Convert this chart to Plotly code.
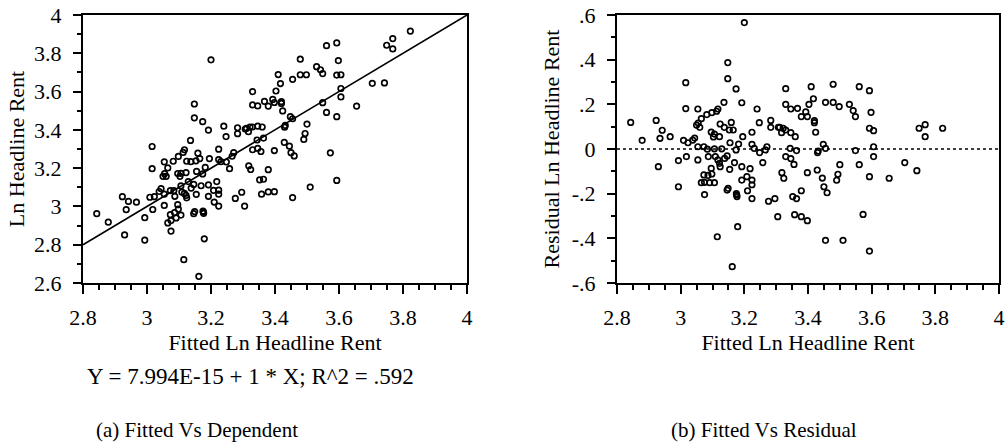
import plotly.graph_objects as go
from plotly.subplots import make_subplots

# Fitted values (x) and residuals
fitted = [
    3.016, 3.016, 2.843, 2.923, 2.942, 2.879, 2.935, 2.967, 3.009, 3.023, 2.930, 2.993, 3.018, 2.993,
    3.148, 3.148, 3.174, 3.192, 3.136, 3.054, 3.117, 3.113, 3.098, 3.082, 3.065, 3.055, 3.050, 3.060,
    3.124, 3.137, 3.159, 3.153, 3.165, 3.096, 3.106, 3.122, 3.103, 3.044, 3.038, 3.054, 3.073, 3.084,
    3.106, 3.129, 3.155, 3.182, 3.195, 3.174, 3.087, 3.146, 3.138, 3.117, 3.109, 3.122, 3.054, 3.154,
    3.124, 3.096, 3.169, 3.192, 3.098, 3.086, 3.073, 3.075, 3.065, 3.091, 3.106, 3.075, 3.146, 3.149,
    3.175, 3.176, 3.177, 3.192, 3.179, 3.115, 3.162, 3.200,
    3.330, 3.330, 3.346, 3.367, 3.240, 3.247, 3.283, 3.283, 3.307, 3.311, 3.322, 3.317, 3.330, 3.346,
    3.360, 3.224, 3.224, 3.231, 3.248, 3.266, 3.271, 3.258, 3.344, 3.364, 3.330, 3.346, 3.356, 3.218,
    3.318, 3.324, 3.208, 3.224, 3.224, 3.210, 3.224, 3.276, 3.296, 3.352, 3.364, 3.305, 3.358,
    3.410, 3.479, 3.561, 3.417, 3.403, 3.393, 3.379, 3.398, 3.455, 3.479, 3.498, 3.530, 3.542, 3.549,
    3.420, 3.420, 3.424, 3.448, 3.455, 3.430, 3.432, 3.549, 3.500, 3.561, 3.398, 3.429, 3.445, 3.494,
    3.490, 3.450, 3.460, 3.379, 3.379, 3.398, 3.573, 3.455, 3.510,
    3.593, 3.598, 3.593, 3.606, 3.606, 3.606, 3.593, 3.655, 3.704, 3.742, 3.749, 3.768, 3.768, 3.823,
    3.593,
]
residual = [
    0.297, 0.181, 0.119, 0.128, 0.084, 0.039, 0.048, 0.055, 0.039, 0.028, -0.079, -0.052, -0.034, -0.169,
    0.387, 0.315, 0.269, 0.207, 0.209, 0.179, 0.179, 0.169, 0.163, 0.154, 0.136, 0.116, 0.107, 0.097,
    0.112, 0.097, 0.119, 0.085, 0.085, 0.076, 0.067, 0.055, 0.054, 0.049, 0.040, 0.010, 0.010, -0.001,
    0.001, 0.001, 0.028, 0.022, 0.055, -0.004, -0.034, -0.031, -0.042, -0.049, -0.034, -0.064, -0.049, -0.091,
    -0.079, -0.087, -0.061, -0.079, -0.112, -0.118, -0.116, -0.149, -0.151, -0.151, -0.151, -0.204, -0.184, -0.176,
    -0.200, -0.206, -0.213, -0.139, -0.348, -0.393, -0.527, 0.566,
    0.270, 0.200, 0.179, 0.182, 0.179, 0.118, 0.128, 0.097, 0.097, 0.097, 0.093, 0.073, 0.085, 0.073,
    0.055, 0.075, 0.021, 0.003, -0.016, -0.004, 0.010, -0.061, 0.003, -0.007, -0.034, -0.043, -0.069, -0.088,
    -0.106, -0.131, -0.124, -0.139, -0.160, -0.187, -0.222, -0.234, -0.222, -0.213, -0.222, -0.303, -0.294,
    0.279, 0.290, 0.279, 0.225, 0.200, 0.166, 0.145, 0.145, 0.209, 0.209, 0.190, 0.200, 0.172, 0.145,
    0.118, 0.127, 0.075, 0.021, 0.003, -0.016, -0.009, -0.007, -0.070, -0.070, -0.106, -0.094, -0.130, -0.113,
    -0.140, -0.169, -0.196, -0.187, -0.303, -0.321, -0.293, -0.409, -0.409,
    0.261, 0.164, 0.093, 0.082, 0.010, -0.034, -0.124, -0.131, -0.061, -0.097, 0.093, 0.109, 0.055, 0.093,
    -0.457,
]
# Dependent (observed) = fitted + residual
dependent = [round(f + r, 3) for f, r in zip(fitted, residual)]

intercept = 7.994e-15
slope = 1.0

x_range = [2.8, 4.0]
y1_range = [2.6, 4.0]
y2_range = [-0.6, 0.6]
x_tickvals = [2.8, 3.0, 3.2, 3.4, 3.6, 3.8, 4.0]
x_ticktext = ["2.8", "3", "3.2", "3.4", "3.6", "3.8", "4"]
y1_tickvals = [2.6, 2.8, 3.0, 3.2, 3.4, 3.6, 3.8, 4.0]
y1_ticktext = ["2.6", "2.8", "3", "3.2", "3.4", "3.6", "3.8", "4"]
y2_tickvals = [-0.6, -0.4, -0.2, 0.0, 0.2, 0.4, 0.6]
y2_ticktext = ["-.6", "-.4", "-.2", "0", ".2", ".4", ".6"]

W, H = 1005, 444
FONT = "Liberation Serif"
FS = 22

fig = make_subplots(rows=1, cols=2)

marker = dict(symbol="circle-open", size=5.5, color="black", line=dict(width=1.7, color="black"))
fig.add_trace(go.Scatter(x=fitted, y=dependent, mode="markers", marker=marker,
                         showlegend=False, hoverinfo="x+y"), row=1, col=1)
fig.add_trace(go.Scatter(x=x_range, y=[intercept + slope * v for v in x_range], mode="lines",
                         line=dict(color="black", width=1.6), showlegend=False), row=1, col=1)
fig.add_trace(go.Scatter(x=fitted, y=residual, mode="markers", marker=marker,
                         showlegend=False, hoverinfo="x+y"), row=1, col=2)

top = 1 - 15 / H
bot = 1 - 283 / H

axis_common = dict(
    showgrid=False, zeroline=False, showline=True, linecolor="black", linewidth=2,
    mirror=True, ticks="outside", tickcolor="black", tickwidth=1.5, automargin=False,
    tickfont=dict(family=FONT, size=FS, color="black"),
)

fig.update_xaxes(**axis_common, range=x_range, tickvals=x_tickvals, ticktext=x_ticktext,
                 ticklen=9, ticklabelstandoff=5,
                 minor=dict(ticks="outside", ticklen=5, dtick=0.05, tickcolor="black", tickwidth=1.5),
                 title=dict(text="Fitted Ln Headline Rent", font=dict(family=FONT, size=FS, color="black"),
                            standoff=3))
fig.update_xaxes(domain=[83 / W, 467 / W], row=1, col=1)
fig.update_xaxes(domain=[617 / W, 999 / W], row=1, col=2)

fig.update_yaxes(**axis_common, ticklen=8, ticklabelstandoff=7,
                 minor=dict(ticks="outside", ticklen=4, dtick=0.1, tickcolor="black", tickwidth=1.5),
                 domain=[bot, top])
fig.update_yaxes(range=y1_range, tickvals=y1_tickvals, ticktext=y1_ticktext,
                 title=dict(text="Ln Headline Rent", font=dict(family=FONT, size=FS, color="black"),
                            standoff=3), row=1, col=1)
fig.update_yaxes(range=y2_range, tickvals=y2_tickvals, ticktext=y2_ticktext,
                 title=dict(text="Residual Ln Headline Rent", font=dict(family=FONT, size=FS, color="black"),
                            standoff=6), row=1, col=2)

fig.add_shape(type="line", xref="x2 domain", yref="y2", x0=0, x1=1, y0=0, y1=0,
              line=dict(color="black", width=1.5, dash="dot"))

fig.add_annotation(text="Y = 7.994E-15 + 1 * X; R^2 = .592", xref="paper", yref="paper",
                   x=250 / W, y=1 - 376 / H, showarrow=False, xanchor="center", yanchor="middle",
                   font=dict(family=FONT, size=23, color="black"))
fig.add_annotation(text="(a) Fitted Vs Dependent", xref="paper", yref="paper",
                   x=197 / W, y=1 - 430 / H, showarrow=False, xanchor="center", yanchor="middle",
                   font=dict(family=FONT, size=21, color="black"))
fig.add_annotation(text="(b) Fitted Vs Residual", xref="paper", yref="paper",
                   x=764 / W, y=1 - 430 / H, showarrow=False, xanchor="center", yanchor="middle",
                   font=dict(family=FONT, size=21, color="black"))

fig.update_layout(width=W, height=H, margin=dict(l=0, r=0, t=0, b=0),
                  paper_bgcolor="white", plot_bgcolor="white",
                  font=dict(family=FONT, size=FS, color="black"))

fig.write_html("out.html", config={"displayModeBar": False},
               post_script="document.body.style.margin='0';")
